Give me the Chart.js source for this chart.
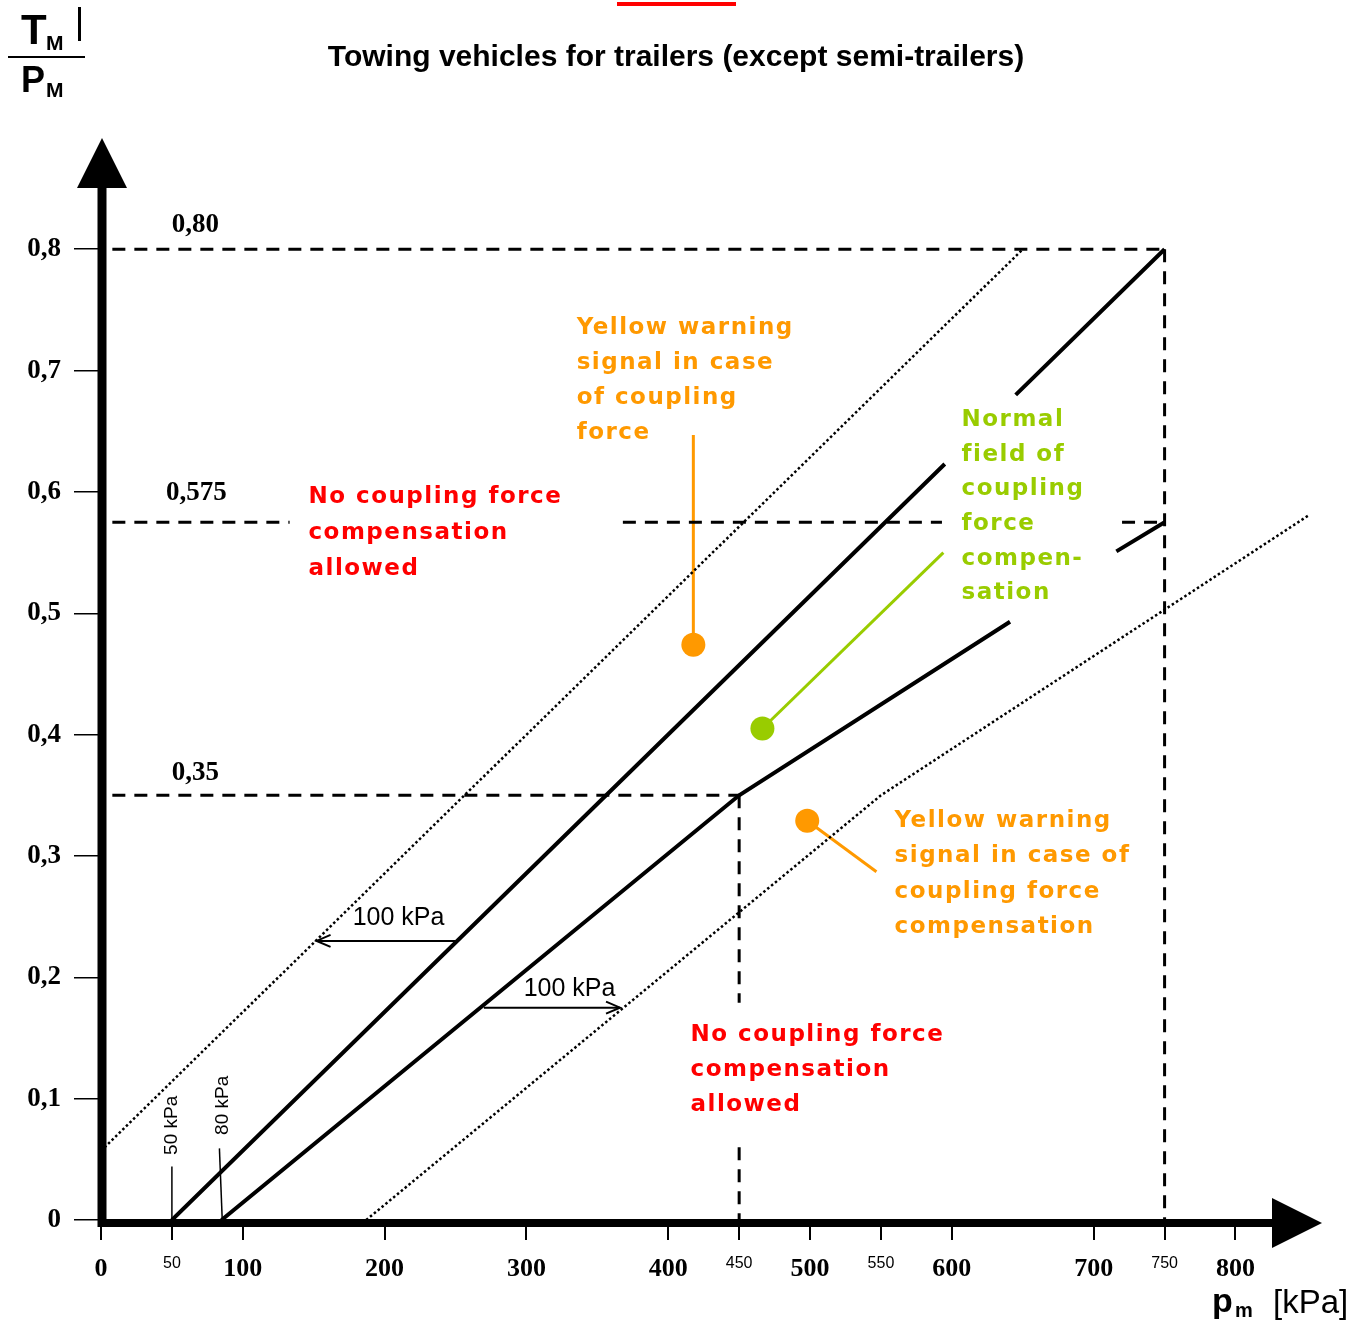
<!DOCTYPE html>
<html><head><meta charset="utf-8">
<script src="https://cdn.jsdelivr.net/npm/chart.js@4/dist/chart.umd.min.js"></script>
<style>html,body{margin:0;padding:0;background:#fff;}canvas{display:block;}</style>
</head><body>
<canvas id="c" width="1356" height="1325"></canvas>
<script>
// ---- data (kPa, TM/PM) ----
const yTickValues = [0, 0.1, 0.2, 0.3, 0.4, 0.5, 0.6, 0.7, 0.8];
const xTickValues = [0, 50, 100, 200, 300, 400, 450, 500, 550, 600, 700, 750, 800];
const xMinorTicks = [50, 450, 550, 750];

const upperSolid = [[50, 0], [595, 0.623], null, [645, 0.680], [750, 0.8]];
const lowerSolid = [[85, 0], [450, 0.35], [641, 0.493], null, [716, 0.551], [750, 0.575]];
const upperDotted = [[0, 0.057], [650, 0.8]];
const lowerDotted = [[187, 0], [550, 0.35], [852, 0.581]];

const dashTop = [[8, 0.8], [750, 0.8]];
const dash750 = [[750, 0.8], [750, 0]];
const dash0575 = [[8, 0.575], [133, 0.575], null, [368, 0.575], [593, 0.575], null, [720, 0.575], [750, 0.575]];
const dash035 = [[8, 0.35], [450, 0.35]];
const dash450 = [[450, 0.35], [450, 0.179], null, [450, 0.06], [450, 0]];

const arrowLeft = [[250, 0.23], [152, 0.23]];
const arrowRight = [[270, 0.175], [366, 0.175]];
const mark50 = [[50, 0], [50, 0.044]];
const mark80 = [[85.5, 0], [83.5, 0.059]];

const leaderOrange1 = [[417.7, 0.647], [417.7, 0.474]];
const leaderGreen = [[594, 0.55], [466.4, 0.405]];
const leaderOrange2 = [[546.8, 0.287], [498, 0.329]];

// ---- texts ----
const titleText = "Towing vehicles for trailers (except semi-trailers)";
const noteRedTop = ["No coupling force", "compensation", "allowed"];
const noteOrangeTop = ["Yellow warning", "signal in case", "of coupling", "force"];
const noteGreen = ["Normal", "field of", "coupling", "force", "compen-", "sation"];
const noteOrangeBottom = ["Yellow warning", "signal in case of", "coupling force", "compensation"];
const noteRedBottom = ["No coupling force", "compensation", "allowed"];
const levelLabels = [["0,80", 66.5, 0.82], ["0,575", 67.3, 0.599], ["0,35", 66.5, 0.368]];

const RED = '#ff0000', ORANGE = '#ff9900', GREEN = '#99cc00';

const pts = a => a.map(p => p ? {x: p[0], y: p[1]} : {x: null, y: null});
function lineDs(data, color, width, dash, extra) {
  return Object.assign({data: pts(data), showLine: true, borderColor: color, backgroundColor: color,
    borderWidth: width, borderDash: dash || [], pointRadius: 0, pointHoverRadius: 0, spanGaps: false,
    borderCapStyle: 'butt', fill: false}, extra || {});
}
const dotEnd = {pointRadius: c => c.dataIndex === 1 ? 12 : 0, pointBorderWidth: 0};

const datasets = [
  lineDs(dashTop, '#000', 3, [13, 9]),
  lineDs(dash750, '#000', 3, [13, 9]),
  lineDs(dash0575, '#000', 3, [13, 9]),
  lineDs(dash035, '#000', 3, [13, 9]),
  lineDs(dash450, '#000', 3, [13, 9]),
  lineDs(upperDotted, '#000', 2.5, [2.5, 2.5]),
  lineDs(lowerDotted, '#000', 2.5, [2.5, 2.5]),
  lineDs(upperSolid, '#000', 4),
  lineDs(lowerSolid, '#000', 4),
  lineDs(arrowLeft, '#000', 2, null, {arrow: true}),
  lineDs(arrowRight, '#000', 2, null, {arrow: true}),
  lineDs(mark50, '#000', 1.5),
  lineDs(mark80, '#000', 1.5),
  lineDs(leaderOrange1, ORANGE, 3, null, dotEnd),
  lineDs(leaderGreen, GREEN, 3, null, dotEnd),
  lineDs(leaderOrange2, ORANGE, 3, null, dotEnd),
];

function drawLines(ctx, lines, x, y, lh, font, color, spacing) {
  ctx.save();
  ctx.font = font; ctx.fillStyle = color; ctx.textAlign = 'left'; ctx.textBaseline = 'middle';
  ctx.letterSpacing = spacing || '0px';
  lines.forEach((s, i) => ctx.fillText(s, x, y + i * lh));
  ctx.restore();
}

const decor = {
  id: 'decor',
  afterDatasetsDraw(chart) {
    const ctx = chart.ctx, xs = chart.scales.x, ys = chart.scales.y, ca = chart.chartArea;
    const X = v => xs.getPixelForValue(v), Y = v => ys.getPixelForValue(v);

    // arrowheads on the 100 kPa arrows
    chart.data.datasets.forEach((ds, i) => {
      if (!ds.arrow) return;
      const meta = chart.getDatasetMeta(i).data;
      const a = meta[0], b = meta[meta.length - 1];
      const dir = Math.sign(b.x - a.x);
      ctx.save(); ctx.strokeStyle = '#000'; ctx.lineWidth = 2;
      ctx.beginPath();
      ctx.moveTo(b.x - dir * 14, b.y - 6); ctx.lineTo(b.x, b.y); ctx.lineTo(b.x - dir * 14, b.y + 6);
      ctx.stroke(); ctx.restore();
    });

    // thick axes with arrowheads
    const x0 = X(0) + 1, y0 = Y(0) + 3;
    ctx.save();
    ctx.fillStyle = '#000'; ctx.strokeStyle = '#000';
    ctx.lineWidth = 9; ctx.lineCap = 'butt';
    ctx.beginPath(); ctx.moveTo(x0, y0 + 4); ctx.lineTo(x0, ca.top + 48); ctx.stroke();
    ctx.lineWidth = 8;
    ctx.beginPath(); ctx.moveTo(x0 - 4, y0); ctx.lineTo(ca.right - 50, y0); ctx.stroke();
    ctx.beginPath(); ctx.moveTo(x0 - 25, ca.top + 48); ctx.lineTo(x0 + 25, ca.top + 48); ctx.lineTo(x0, ca.top - 2); ctx.closePath(); ctx.fill();
    ctx.beginPath(); ctx.moveTo(ca.right - 50, y0 - 25); ctx.lineTo(ca.right - 50, y0 + 25); ctx.lineTo(ca.right, y0); ctx.closePath(); ctx.fill();
    ctx.restore();

    // level labels
    ctx.save();
    ctx.font = 'bold 27px "Liberation Serif", "DejaVu Serif", serif';
    ctx.fillStyle = '#000'; ctx.textAlign = 'center'; ctx.textBaseline = 'middle';
    levelLabels.forEach(l => ctx.fillText(l[0], X(l[1]), Y(l[2])));
    ctx.restore();

    // 100 kPa labels
    ctx.save();
    ctx.font = '25px "Liberation Sans", Arial, sans-serif';
    ctx.fillStyle = '#000'; ctx.textAlign = 'center'; ctx.textBaseline = 'middle';
    ctx.fillText('100 kPa', X(209.8), Y(0.249));
    ctx.fillText('100 kPa', X(330.4), Y(0.19));
    ctx.restore();

    // rotated 50 / 80 kPa
    ctx.save();
    ctx.font = '19px "Liberation Sans", Arial, sans-serif';
    ctx.fillStyle = '#000'; ctx.textAlign = 'center'; ctx.textBaseline = 'middle';
    [['50 kPa', 49.7, 0.078], ['80 kPa', 86, 0.0945]].forEach(t => {
      ctx.save(); ctx.translate(X(t[1]), Y(t[2])); ctx.rotate(-Math.PI / 2);
      ctx.fillText(t[0], 0, 0); ctx.restore();
    });
    ctx.restore();

    // coloured notes
    const nf = 'bold 23px "DejaVu Sans", Verdana, sans-serif';
    drawLines(ctx, noteRedTop, X(146.3), Y(0.5957), 36, nf, RED, '1.5px');
    drawLines(ctx, noteOrangeTop, X(335.4), Y(0.7349), 35, nf, ORANGE, '1.5px');
    drawLines(ctx, noteGreen, X(606.8), Y(0.6591), 34.6, nf, GREEN, '1.5px');
    drawLines(ctx, noteOrangeBottom, X(559.6), Y(0.3287), 35.3, nf, ORANGE, '1.5px');
    drawLines(ctx, noteRedBottom, X(415.7), Y(0.1524), 35, nf, RED, '1.5px');
  },
  afterDraw(chart) {
    const ctx = chart.ctx;
    ctx.save();
    // red mark at top
    ctx.fillStyle = RED; ctx.fillRect(617, 2, 119, 4);
    // title
    ctx.fillStyle = '#000'; ctx.textAlign = 'center'; ctx.textBaseline = 'middle';
    ctx.font = 'bold 30px "Liberation Sans", Arial, sans-serif';
    ctx.fillText(titleText, 676, 58, 702);
    // y-axis quantity TM / PM
    ctx.textAlign = 'left'; ctx.textBaseline = 'alphabetic';
    ctx.font = 'bold 42px "Liberation Sans", Arial, sans-serif';
    ctx.fillText('T', 21, 44);
    ctx.font = 'bold 36px "Liberation Sans", Arial, sans-serif';
    ctx.fillText('P', 21, 92);
    ctx.font = 'bold 21px "Liberation Sans", Arial, sans-serif';
    ctx.fillText('M', 46, 50);
    ctx.fillText('M', 46, 97);
    ctx.fillRect(78, 7, 3, 34);
    ctx.fillRect(8, 56, 77, 2);
    // x-axis quantity pm [kPa]
    ctx.font = 'bold 34px "Liberation Sans", Arial, sans-serif';
    ctx.fillText('p', 1212, 1312);
    ctx.font = 'bold 20px "Liberation Sans", Arial, sans-serif';
    ctx.fillText('m', 1235, 1317);
    ctx.font = '33px "Liberation Sans", Arial, sans-serif';
    ctx.fillText('[kPa]', 1273, 1313);
    ctx.restore();
  }
};

new Chart(document.getElementById('c'), {
  type: 'scatter',
  data: {datasets},
  options: {
    responsive: false, animation: false, devicePixelRatio: 1,
    layout: {padding: {top: 140, right: 34, bottom: 0, left: 0}},
    plugins: {legend: {display: false}, tooltip: {enabled: false}, title: {display: false}},
    events: [],
    scales: {
      x: {
        type: 'linear', min: 0, max: 861,
        afterBuildTicks: s => { s.ticks = xTickValues.map(v => ({value: v})); },
        afterFit: s => { s.height = 105; },
        ticks: {
          autoSkip: false, maxRotation: 0, minRotation: 0, padding: 14, color: '#000',
          callback: v => String(v),
          font: c => (c.tick && xMinorTicks.includes(c.tick.value))
            ? {family: '"Liberation Sans", Arial, sans-serif', size: 16, weight: 'normal'}
            : {family: '"Liberation Serif", "Times New Roman", serif', size: 26, weight: 'bold'}
        },
        grid: {drawOnChartArea: false, drawTicks: true, tickLength: 20, color: '#000', lineWidth: 2},
        border: {display: false}
      },
      y: {
        type: 'linear', min: 0, max: 0.89,
        afterBuildTicks: s => { s.ticks = yTickValues.map(v => ({value: v})); },
        afterFit: s => { s.width = 101; },
        ticks: {
          padding: 13, color: '#000',
          callback: v => v === 0 ? '0' : v.toFixed(1).replace('.', ','),
          font: {family: '"Liberation Serif", "Times New Roman", serif', size: 27, weight: 'bold'}
        },
        grid: {drawOnChartArea: false, drawTicks: true, tickLength: 27, color: '#000', lineWidth: 1.5},
        border: {display: false}
      }
    }
  },
  plugins: [decor]
});
</script>
</body></html>
